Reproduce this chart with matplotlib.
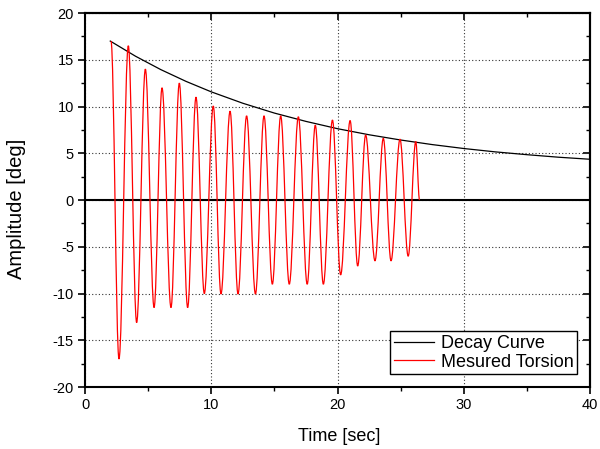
import matplotlib
matplotlib.use('Agg')
import matplotlib.pyplot as plt
from matplotlib.path import Path
from matplotlib.patches import PathPatch
from matplotlib.lines import Line2D
from matplotlib.ticker import MultipleLocator

plt.rcParams['font.family'] = ['Liberation Sans', 'DejaVu Sans']
plt.rcParams['axes.unicode_minus'] = False

# decay envelope
decay_t = [2, 4, 6, 8, 10, 12.5, 15, 17.5, 20, 22.5, 25, 27.5, 30, 32.5, 35, 37.5, 40]
decay_a = [17.0, 15.38, 13.95, 12.69, 11.57, 10.35, 9.30, 8.41, 7.63, 6.98,
           6.42, 5.93, 5.51, 5.15, 4.85, 4.58, 4.36]

peak_t = [2.06, 3.43, 4.78, 6.10, 7.47, 8.79, 10.16, 11.49, 12.80, 14.18,
          15.50, 16.90, 18.24, 19.60, 21.00, 22.23, 23.63, 24.95, 26.20]
peak_a = [17.0, 16.5, 14.0, 12.0, 12.5, 11.0, 10.05, 9.5, 9.0, 9.0,
          9.0, 8.9, 8.0, 8.55, 8.5, 6.95, 6.6, 6.5, 6.25]
trough_t = [2.69, 4.09, 5.47, 6.81, 8.13, 9.45, 10.77, 12.12, 13.50,
            14.84, 16.18, 17.60, 18.88, 20.25, 21.60, 22.97, 24.24, 25.60]
trough_a = [-17.0, -13.1, -11.5, -11.5, -11.5, -10.0, -10.05, -10.05, -10.05,
            -9.0, -9.0, -9.0, -9.0, -8.0, -7.05, -6.5, -6.5, -6.0]
end_t, end_a = 26.5, 0.0

# alternate peaks and troughs
ext = []
for i in range(len(peak_t)):
    ext.append((peak_t[i], peak_a[i]))
    if i < len(trough_t):
        ext.append((trough_t[i], trough_a[i]))
ext.append((end_t, end_a))

# smooth path through the extrema (flat tangents at each extremum)
k = 0.3642
verts = [ext[0]]
codes = [Path.MOVETO]
for (x0, y0), (x1, y1) in zip(ext[:-1], ext[1:]):
    dx = x1 - x0
    verts += [(x0 + k * dx, y0), (x1 - k * dx, y1), (x1, y1)]
    codes += [Path.CURVE4] * 3

fig = plt.figure(figsize=(6, 4.49), dpi=100)
ax = fig.add_axes([0.1417, 0.138, 0.8416, 0.833])

ax.plot(decay_t, decay_a, color='black', lw=0.9, zorder=3)
ax.add_patch(PathPatch(Path(verts, codes), fill=False, edgecolor='red', lw=0.9, zorder=4))
ax.axhline(0, color='black', lw=1.5, zorder=2)

ax.set_xlim(0, 40)
ax.set_ylim(-20, 20)
ax.xaxis.set_major_locator(MultipleLocator(10))
ax.xaxis.set_minor_locator(MultipleLocator(5))
ax.yaxis.set_major_locator(MultipleLocator(5))
ax.yaxis.set_minor_locator(MultipleLocator(2.5))
ax.grid(True, which='major', color='#333333', ls=(0, (1, 2)), lw=0.8)
ax.tick_params(which='major', direction='out', length=5, width=1.2, labelsize=10.5, pad=3)
ax.tick_params(which='minor', direction='out', length=3, width=1.0)

# mirrored ticks on top and right, pointing inside
top = ax.secondary_xaxis('top')
top.xaxis.set_major_locator(MultipleLocator(10))
top.xaxis.set_minor_locator(MultipleLocator(5))
top.tick_params(which='major', direction='in', length=5, width=1.2, labeltop=False)
top.tick_params(which='minor', direction='in', length=3, width=1.0)
right = ax.secondary_yaxis('right')
right.yaxis.set_major_locator(MultipleLocator(5))
right.yaxis.set_minor_locator(MultipleLocator(2.5))
right.tick_params(which='major', direction='in', length=5, width=1.2, labelright=False)
right.tick_params(which='minor', direction='in', length=3, width=1.0)
for a in (ax, top, right):
    for s in a.spines.values():
        s.set_linewidth(1.5)

ax.set_xlabel('Time [sec]', fontsize=13)
ax.set_ylabel('Amplitude [deg]', fontsize=14.5)
ax.xaxis.set_label_coords(0.503, -0.11)
ax.yaxis.set_label_coords(-0.117, 0.477)

handles = [Line2D([], [], color='black', lw=0.9), Line2D([], [], color='red', lw=0.9)]
leg = ax.legend(handles, ['Decay Curve', 'Mesured Torsion'], loc='lower right',
                fontsize=13, fancybox=False, framealpha=1, edgecolor='black',
                handlelength=2.2, borderaxespad=0.7, borderpad=0.2,
                labelspacing=0.1, handletextpad=0.4)
leg.get_frame().set_linewidth(1.0)
leg.set_zorder(10)

fig.savefig('out.png', dpi=100)
